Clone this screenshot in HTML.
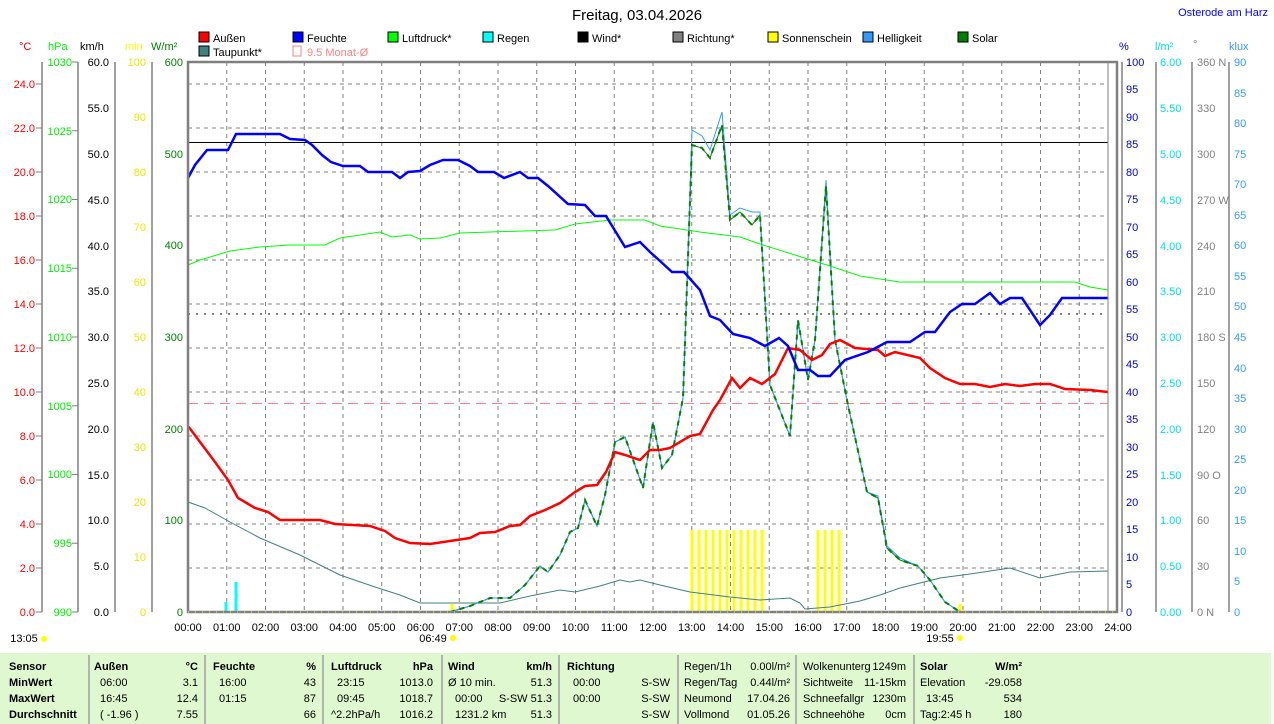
<!DOCTYPE html>
<html><head><meta charset="utf-8"><style>
html,body{margin:0;padding:0;background:#fff;}
svg{display:block;font-family:"Liberation Sans",sans-serif;}
</style></head><body>
<svg width="1274" height="724" viewBox="0 0 1274 724" xmlns="http://www.w3.org/2000/svg">
<rect width="1274" height="724" fill="#fff"/>
<text x="637" y="20" font-size="15" text-anchor="middle" fill="#000">Freitag, 03.04.2026</text>
<text x="1268" y="16" font-size="11" text-anchor="end" fill="#0000ff">Osterode am Harz</text>
<g font-size="11" fill="#000">
<rect x="199" y="32" width="10" height="10" fill="#ff0000" stroke="#000"/><text x="213" y="42">Außen</text>
<rect x="293" y="32" width="10" height="10" fill="#0000ff" stroke="#000"/><text x="307" y="42">Feuchte</text>
<rect x="388" y="32" width="10" height="10" fill="#00ff00" stroke="#000"/><text x="402" y="42">Luftdruck*</text>
<rect x="483" y="32" width="10" height="10" fill="#00ffff" stroke="#000"/><text x="497" y="42">Regen</text>
<rect x="578" y="32" width="10" height="10" fill="#000" stroke="#000"/><text x="592" y="42">Wind*</text>
<rect x="673" y="32" width="10" height="10" fill="#808080" stroke="#000"/><text x="687" y="42">Richtung*</text>
<rect x="768" y="32" width="10" height="10" fill="#ffff00" stroke="#000"/><text x="782" y="42">Sonnenschein</text>
<rect x="863" y="32" width="10" height="10" fill="#3399ff" stroke="#000"/><text x="877" y="42">Helligkeit</text>
<rect x="958" y="32" width="10" height="10" fill="#008000" stroke="#000"/><text x="972" y="42">Solar</text>
<rect x="199" y="46" width="10" height="10" fill="#408080" stroke="#000"/><text x="213" y="56">Taupunkt*</text>
<rect x="293" y="46" width="8" height="10" fill="none" stroke="#ff8080"/><text x="307" y="56" fill="#ff8080">9.5 Monat-Ø</text>
</g>
<g font-size="11">
<text x="19" y="50" fill="#ff0000">°C</text>
<text x="48" y="50" fill="#00ff00">hPa</text>
<text x="80" y="50" fill="#000">km/h</text>
<text x="125" y="50" fill="#ffff00">min</text>
<text x="151" y="50" fill="#008000">W/m²</text>
<text x="1119" y="50" fill="#0000cc">%</text>
<text x="1155" y="50" fill="#00e0e0">l/m²</text>
<text x="1193" y="48" fill="#808080">°</text>
<text x="1229" y="50" fill="#3399ff">klux</text>
</g>
<g stroke="#808080" stroke-width="1" stroke-dasharray="4,4">
<line x1="188" y1="84" x2="1108" y2="84"/><line x1="188" y1="128" x2="1108" y2="128"/><line x1="188" y1="172" x2="1108" y2="172"/><line x1="188" y1="216" x2="1108" y2="216"/><line x1="188" y1="260" x2="1108" y2="260"/><line x1="188" y1="304" x2="1108" y2="304"/><line x1="188" y1="348" x2="1108" y2="348"/><line x1="188" y1="392" x2="1108" y2="392"/><line x1="188" y1="436" x2="1108" y2="436"/><line x1="188" y1="480" x2="1108" y2="480"/><line x1="188" y1="524" x2="1108" y2="524"/><line x1="188" y1="568" x2="1108" y2="568"/>
<line x1="226.75" y1="62" x2="226.75" y2="612"/><line x1="265.5" y1="62" x2="265.5" y2="612"/><line x1="304.25" y1="62" x2="304.25" y2="612"/><line x1="343" y1="62" x2="343" y2="612"/><line x1="381.75" y1="62" x2="381.75" y2="612"/><line x1="420.5" y1="62" x2="420.5" y2="612"/><line x1="459.25" y1="62" x2="459.25" y2="612"/><line x1="498" y1="62" x2="498" y2="612"/><line x1="536.75" y1="62" x2="536.75" y2="612"/><line x1="575.5" y1="62" x2="575.5" y2="612"/><line x1="614.25" y1="62" x2="614.25" y2="612"/><line x1="653" y1="62" x2="653" y2="612"/><line x1="691.75" y1="62" x2="691.75" y2="612"/><line x1="730.5" y1="62" x2="730.5" y2="612"/><line x1="769.25" y1="62" x2="769.25" y2="612"/><line x1="808" y1="62" x2="808" y2="612"/><line x1="846.75" y1="62" x2="846.75" y2="612"/><line x1="885.5" y1="62" x2="885.5" y2="612"/><line x1="924.25" y1="62" x2="924.25" y2="612"/><line x1="963" y1="62" x2="963" y2="612"/><line x1="1001.75" y1="62" x2="1001.75" y2="612"/><line x1="1040.5" y1="62" x2="1040.5" y2="612"/><line x1="1079.25" y1="62" x2="1079.25" y2="612"/>
</g>
<line x1="188" y1="142.5" x2="1108" y2="142.5" stroke="#000" stroke-width="1"/>
<line x1="188" y1="314" x2="1108" y2="314" stroke="#808080" stroke-width="2" stroke-dasharray="2,6"/>
<line x1="188" y1="403.5" x2="1108" y2="403.5" stroke="#ff8080" stroke-width="1" stroke-dasharray="10,6"/>
<g stroke="#ffff00" stroke-width="3">
<line x1="692" y1="612" x2="692" y2="530"/><line x1="699" y1="612" x2="699" y2="530"/><line x1="706" y1="612" x2="706" y2="530"/><line x1="713" y1="612" x2="713" y2="530"/><line x1="720" y1="612" x2="720" y2="530"/><line x1="727" y1="612" x2="727" y2="530"/><line x1="734" y1="612" x2="734" y2="530"/><line x1="741" y1="612" x2="741" y2="530"/><line x1="748" y1="612" x2="748" y2="530"/><line x1="755" y1="612" x2="755" y2="530"/><line x1="762" y1="612" x2="762" y2="530"/>
<line x1="818" y1="612" x2="818" y2="530"/><line x1="825" y1="612" x2="825" y2="530"/><line x1="832" y1="612" x2="832" y2="530"/><line x1="839" y1="612" x2="839" y2="530"/>
<line x1="452" y1="612" x2="452" y2="604"/><line x1="960" y1="612" x2="960" y2="604"/>
</g>
<g stroke="#00ffff" stroke-width="3"><line x1="226" y1="612" x2="226" y2="602"/><line x1="236" y1="612" x2="236" y2="582"/></g>
<polyline fill="none" stroke="#00ff00" stroke-width="1" points="188,265 200,260 230,251 260,247 290,245 325,245 340,238 380,232 392,237 410,235 420,239 440,238 460,233 490,232 555,230 575,224 610,220 645,220 660,226 700,232 740,237 760,244 795,255 830,266 860,276 900,282 1075,282 1090,287 1108,290"/>
<polyline fill="none" stroke="#408080" stroke-width="1" points="188,502 205,508 230,522 260,538 300,555 320,565 340,575 375,587 400,595 420,603 470,603 500,603 530,596 560,590 575,592 600,586 620,580 630,582 640,580 660,585 690,592 730,597 760,600 790,598 800,603 805,609 830,607 860,601 880,595 900,588 940,578 970,574 1010,568 1040,578 1070,572 1108,571"/>
<polyline fill="none" stroke="#008000" stroke-width="1" points="450,612 470,606 490,598 510,598 525,585 540,566 548,572 560,555 570,532 578,528 585,500 597,526 605,495 615,442 625,437 643,488 653,422 662,468 672,455 683,398 692,145 702,148 710,158 722,125 730,220 740,212 752,225 760,215 770,385 790,436 798,320 808,380 815,340 826,186 835,340 848,405 860,460 867,492 878,498 887,548 900,560 918,566 930,580 945,602 960,612"/>
<polyline fill="none" stroke="#3399ff" stroke-width="1" points="450,612 470,606 490,598 510,598 525,585 540,566 548,572 560,555 570,532 578,528 585,500 597,526 605,495 615,442 625,437 643,488 653,422 662,468 672,455 683,398 692,130 702,136 710,150 722,112 730,215 740,208 752,212 760,212 770,385 790,436 798,320 808,380 815,340 826,180 835,340 848,405 860,460 867,492 878,496 887,546 900,558 918,566 930,580 945,602 960,612"/>
<polyline fill="none" stroke="#008000" stroke-width="2" stroke-dasharray="5,5" points="450,612 470,606 490,598 510,598 525,585 540,566 548,572 560,555 570,532 578,528 585,500 597,526 605,495 615,442 625,437 643,488 653,422 662,468 672,455 683,398 692,145 702,148 710,158 722,125 730,220 740,212 752,225 760,215 770,385 790,436 798,320 808,380 815,340 826,186 835,340 848,405 860,460 867,492 878,498 887,548 900,560 918,566 930,580 945,602 960,612"/>
<polyline fill="none" stroke="#ff0000" stroke-width="2.5" points="188,426 200,442 215,462 228,480 238,498 255,508 268,512 280,520 320,520 335,524 370,526 385,531 395,538 410,543 430,544 450,541 470,538 480,533 495,532 510,526 520,525 530,516 545,510 560,503 575,492 585,486 597,485 606,472 615,452 625,455 640,460 650,450 660,450 670,448 690,436 700,434 713,410 720,400 732,378 740,388 750,378 762,384 775,374 788,348 800,350 812,360 822,355 830,344 840,340 855,348 878,350 885,356 895,352 920,358 930,368 945,378 960,384 975,384 990,387 1005,384 1020,386 1035,384 1050,384 1065,389 1090,390 1108,392"/>
<polyline fill="none" stroke="#0000ff" stroke-width="2.5" points="188,178 195,165 207,150 228,150 236,134 280,134 290,139 305,140 312,145 322,155 331,162 343,166 360,166 368,172 392,172 400,178 408,172 420,171 430,165 443,160 458,160 470,166 478,172 494,172 504,178 520,172 528,178 538,178 548,186 568,204 585,205 595,216 606,216 625,247 640,242 650,252 660,261 672,272 684,272 700,290 710,316 720,320 733,334 750,338 765,346 779,338 788,346 798,370 810,370 818,376 830,376 845,360 868,352 887,342 910,342 925,332 935,332 950,312 962,304 975,304 990,293 1000,304 1010,298 1022,298 1040,325 1050,315 1062,298 1108,298"/>
<rect x="188" y="62" width="929" height="550" fill="none" stroke="#808080" stroke-width="2.5"/>
<line x1="1108" y1="62" x2="1108" y2="612" stroke="#808080" stroke-width="1"/>
<line x1="188" y1="612" x2="1117" y2="612" stroke="#ffff00" stroke-width="1" stroke-dasharray="1,6"/>
<g stroke="#808080" stroke-width="1.5" fill="none">
<line x1="42" y1="62" x2="42" y2="612"/><line x1="78" y1="62" x2="78" y2="612"/><line x1="115" y1="62" x2="115" y2="612"/><line x1="152" y1="62" x2="152" y2="612"/>
<line x1="1122" y1="62" x2="1122" y2="612"/><line x1="1156" y1="62" x2="1156" y2="612"/><line x1="1192" y1="62" x2="1192" y2="612"/><line x1="1229" y1="62" x2="1229" y2="612"/>
</g>
<g font-size="11" text-anchor="end" fill="#ff0000">
<text x="35" y="616">0.0</text><text x="35" y="572">2.0</text><text x="35" y="528">4.0</text><text x="35" y="484">6.0</text><text x="35" y="440">8.0</text><text x="35" y="396">10.0</text><text x="35" y="352">12.0</text><text x="35" y="308">14.0</text><text x="35" y="264">16.0</text><text x="35" y="220">18.0</text><text x="35" y="176">20.0</text><text x="35" y="132">22.0</text><text x="35" y="88">24.0</text>
</g>
<g stroke="#808080" stroke-width="1"><line x1="36" y1="612" x2="42" y2="612"/><line x1="36" y1="568" x2="42" y2="568"/><line x1="36" y1="524" x2="42" y2="524"/><line x1="36" y1="480" x2="42" y2="480"/><line x1="36" y1="436" x2="42" y2="436"/><line x1="36" y1="392" x2="42" y2="392"/><line x1="36" y1="348" x2="42" y2="348"/><line x1="36" y1="304" x2="42" y2="304"/><line x1="36" y1="260" x2="42" y2="260"/><line x1="36" y1="216" x2="42" y2="216"/><line x1="36" y1="172" x2="42" y2="172"/><line x1="36" y1="128" x2="42" y2="128"/><line x1="36" y1="84" x2="42" y2="84"/>
<line x1="72" y1="612" x2="78" y2="612"/><line x1="72" y1="543.25" x2="78" y2="543.25"/><line x1="72" y1="474.5" x2="78" y2="474.5"/><line x1="72" y1="405.75" x2="78" y2="405.75"/><line x1="72" y1="337" x2="78" y2="337"/><line x1="72" y1="268.25" x2="78" y2="268.25"/><line x1="72" y1="199.5" x2="78" y2="199.5"/><line x1="72" y1="130.75" x2="78" y2="130.75"/><line x1="72" y1="62" x2="78" y2="62"/></g>
<g font-size="11" text-anchor="end" fill="#00ee00">
<text x="72" y="616">990</text><text x="72" y="547">995</text><text x="72" y="478">1000</text><text x="72" y="410">1005</text><text x="72" y="341">1010</text><text x="72" y="272">1015</text><text x="72" y="203">1020</text><text x="72" y="135">1025</text><text x="72" y="66">1030</text>
</g>
<g font-size="11" text-anchor="end" fill="#000">
<text x="109" y="616">0.0</text><text x="109" y="570">5.0</text><text x="109" y="524">10.0</text><text x="109" y="479">15.0</text><text x="109" y="433">20.0</text><text x="109" y="387">25.0</text><text x="109" y="341">30.0</text><text x="109" y="295">35.0</text><text x="109" y="250">40.0</text><text x="109" y="204">45.0</text><text x="109" y="158">50.0</text><text x="109" y="112">55.0</text><text x="109" y="66">60.0</text>
</g>
<g font-size="11" text-anchor="end" fill="#e8e800">
<text x="146" y="616">0</text><text x="146" y="561">10</text><text x="146" y="506">20</text><text x="146" y="451">30</text><text x="146" y="396">40</text><text x="146" y="341">50</text><text x="146" y="286">60</text><text x="146" y="231">70</text><text x="146" y="176">80</text><text x="146" y="121">90</text><text x="146" y="66">100</text>
</g>
<g font-size="11" text-anchor="end" fill="#008000">
<text x="183" y="616">0</text><text x="183" y="524">100</text><text x="183" y="433">200</text><text x="183" y="341">300</text><text x="183" y="249">400</text><text x="183" y="158">500</text><text x="183" y="66">600</text>
</g>
<g font-size="11" fill="#0000cc">
<text x="1126" y="616">0</text><text x="1126" y="588">5</text><text x="1126" y="561">10</text><text x="1126" y="533">15</text><text x="1126" y="506">20</text><text x="1126" y="478">25</text><text x="1126" y="451">30</text><text x="1126" y="423">35</text><text x="1126" y="396">40</text><text x="1126" y="368">45</text><text x="1126" y="341">50</text><text x="1126" y="313">55</text><text x="1126" y="286">60</text><text x="1126" y="258">65</text><text x="1126" y="231">70</text><text x="1126" y="203">75</text><text x="1126" y="176">80</text><text x="1126" y="148">85</text><text x="1126" y="121">90</text><text x="1126" y="93">95</text><text x="1126" y="66">100</text>
</g>
<g font-size="11" fill="#00e0e0">
<text x="1160" y="616">0.00</text><text x="1160" y="570">0.50</text><text x="1160" y="524">1.00</text><text x="1160" y="479">1.50</text><text x="1160" y="433">2.00</text><text x="1160" y="387">2.50</text><text x="1160" y="341">3.00</text><text x="1160" y="295">3.50</text><text x="1160" y="250">4.00</text><text x="1160" y="204">4.50</text><text x="1160" y="158">5.00</text><text x="1160" y="112">5.50</text><text x="1160" y="66">6.00</text>
</g>
<g font-size="11" fill="#808080">
<text x="1197" y="616">0 N</text><text x="1197" y="570">30</text><text x="1197" y="524">60</text><text x="1197" y="479">90 O</text><text x="1197" y="433">120</text><text x="1197" y="387">150</text><text x="1197" y="341">180 S</text><text x="1197" y="295">210</text><text x="1197" y="250">240</text><text x="1197" y="204">270 W</text><text x="1197" y="158">300</text><text x="1197" y="112">330</text><text x="1197" y="66">360 N</text>
</g>
<g font-size="11" fill="#3399ff">
<text x="1234" y="616">0</text><text x="1234" y="585">5</text><text x="1234" y="555">10</text><text x="1234" y="524">15</text><text x="1234" y="494">20</text><text x="1234" y="463">25</text><text x="1234" y="433">30</text><text x="1234" y="402">35</text><text x="1234" y="372">40</text><text x="1234" y="341">45</text><text x="1234" y="310">50</text><text x="1234" y="280">55</text><text x="1234" y="249">60</text><text x="1234" y="219">65</text><text x="1234" y="188">70</text><text x="1234" y="158">75</text><text x="1234" y="127">80</text><text x="1234" y="97">85</text><text x="1234" y="66">90</text>
</g>
<g font-size="11" text-anchor="middle" fill="#000">
<text x="188" y="631">00:00</text><text x="226.75" y="631">01:00</text><text x="265.5" y="631">02:00</text><text x="304.25" y="631">03:00</text><text x="343" y="631">04:00</text><text x="381.75" y="631">05:00</text><text x="420.5" y="631">06:00</text><text x="459.25" y="631">07:00</text><text x="498" y="631">08:00</text><text x="536.75" y="631">09:00</text><text x="575.5" y="631">10:00</text><text x="614.25" y="631">11:00</text><text x="653" y="631">12:00</text><text x="691.75" y="631">13:00</text><text x="730.5" y="631">14:00</text><text x="769.25" y="631">15:00</text><text x="808" y="631">16:00</text><text x="846.75" y="631">17:00</text><text x="885.5" y="631">18:00</text><text x="924.25" y="631">19:00</text><text x="963" y="631">20:00</text><text x="1001.75" y="631">21:00</text><text x="1040.5" y="631">22:00</text><text x="1079.25" y="631">23:00</text><text x="1118" y="631">24:00</text>
<text x="433" y="642">06:49</text><text x="940" y="642">19:55</text><text x="24" y="642">13:05</text>
</g>
<circle cx="453" cy="638" r="3" fill="#ffff00"/><circle cx="960" cy="638" r="3" fill="#ffff00"/><circle cx="44" cy="639" r="3" fill="#ffff00"/>
<rect x="0" y="653" width="1271" height="71" fill="#e0f8d0"/>
<g stroke="#a0a0a0" stroke-width="1.5"><line x1="89" y1="655" x2="89" y2="724"/><line x1="205" y1="655" x2="205" y2="724"/><line x1="323" y1="655" x2="323" y2="724"/><line x1="442" y1="655" x2="442" y2="724"/><line x1="559" y1="655" x2="559" y2="724"/><line x1="678" y1="655" x2="678" y2="724"/><line x1="796" y1="655" x2="796" y2="724"/><line x1="914" y1="655" x2="914" y2="724"/></g>
<g font-size="11" fill="#000">
<g font-weight="bold"><text x="9" y="670">Sensor</text><text x="9" y="686">MinWert</text><text x="9" y="702">MaxWert</text><text x="9" y="718">Durchschnitt</text>
<text x="94" y="670">Außen</text><text x="198" y="670" text-anchor="end">°C</text><text x="213" y="670">Feuchte</text><text x="316" y="670" text-anchor="end">%</text><text x="331" y="670">Luftdruck</text><text x="433" y="670" text-anchor="end">hPa</text><text x="448" y="670">Wind</text><text x="552" y="670" text-anchor="end">km/h</text><text x="567" y="670">Richtung</text><text x="920" y="670">Solar</text><text x="1022" y="670" text-anchor="end">W/m²</text></g>
<text x="100" y="686">06:00</text><text x="198" y="686" text-anchor="end">3.1</text><text x="100" y="702">16:45</text><text x="198" y="702" text-anchor="end">12.4</text><text x="100" y="718">( -1.96 )</text><text x="198" y="718" text-anchor="end">7.55</text>
<text x="219" y="686">16:00</text><text x="316" y="686" text-anchor="end">43</text><text x="219" y="702">01:15</text><text x="316" y="702" text-anchor="end">87</text><text x="316" y="718" text-anchor="end">66</text>
<text x="337" y="686">23:15</text><text x="433" y="686" text-anchor="end">1013.0</text><text x="337" y="702">09:45</text><text x="433" y="702" text-anchor="end">1018.7</text><text x="331" y="718">^2.2hPa/h</text><text x="433" y="718" text-anchor="end">1016.2</text>
<text x="448" y="686">Ø 10 min.</text><text x="552" y="686" text-anchor="end">51.3</text><text x="455" y="702">00:00</text><text x="552" y="702" text-anchor="end">S-SW 51.3</text><text x="455" y="718">1231.2 km</text><text x="552" y="718" text-anchor="end">51.3</text>
<text x="573" y="686">00:00</text><text x="573" y="702">00:00</text><text x="670" y="686" text-anchor="end">S-SW</text><text x="670" y="702" text-anchor="end">S-SW</text><text x="670" y="718" text-anchor="end">S-SW</text>
<text x="684" y="670">Regen/1h</text><text x="790" y="670" text-anchor="end">0.00l/m²</text><text x="684" y="686">Regen/Tag</text><text x="790" y="686" text-anchor="end">0.44l/m²</text><text x="684" y="702">Neumond</text><text x="790" y="702" text-anchor="end">17.04.26</text><text x="684" y="718">Vollmond</text><text x="790" y="718" text-anchor="end">01.05.26</text>
<text x="803" y="670">Wolkenunterg</text><text x="906" y="670" text-anchor="end">1249m</text><text x="803" y="686">Sichtweite</text><text x="906" y="686" text-anchor="end">11-15km</text><text x="803" y="702">Schneefallgr</text><text x="906" y="702" text-anchor="end">1230m</text><text x="803" y="718">Schneehöhe</text><text x="906" y="718" text-anchor="end">0cm</text>
<text x="920" y="686">Elevation</text><text x="1022" y="686" text-anchor="end">-29.058</text><text x="926" y="702">13:45</text><text x="1022" y="702" text-anchor="end">534</text><text x="920" y="718">Tag:2:45 h</text><text x="1022" y="718" text-anchor="end">180</text>
</g>
</svg>
</body></html>
